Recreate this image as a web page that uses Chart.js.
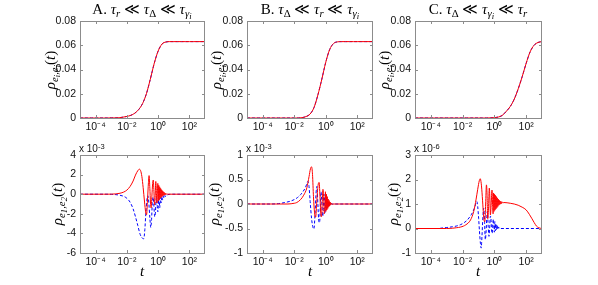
<!DOCTYPE html>
<html><head><meta charset="utf-8">
<script src="https://cdn.jsdelivr.net/npm/chart.js@4"></script>
<style>
body{margin:0;background:#fff;width:598px;height:285px;overflow:hidden;position:relative;}
canvas{position:absolute;left:0;top:0;}
.t{position:absolute;font-family:"Liberation Serif","DejaVu Serif",serif;white-space:nowrap;color:#000;line-height:1;}
.t sub{font-size:72%;vertical-align:-0.25em;line-height:0;}
.t sub sub{font-size:80%;}
.ttl{font-size:15px;transform:translateX(-50%);top:2px;}
.yl{font-size:15px;transform:translate(-50%,-50%) rotate(-90deg);}
.xl{font-size:15px;transform:translateX(-50%);top:264px;}
.ex{position:absolute;font-family:"Liberation Sans",Arial,sans-serif;font-size:10px;color:#111;top:144px;white-space:nowrap;line-height:1;}
.ex sup{font-size:75%;vertical-align:0.45em;line-height:0;}
</style></head><body>
<canvas id="cA1" width="598" height="285"></canvas>
<canvas id="cB1" width="598" height="285"></canvas>
<canvas id="cC1" width="598" height="285"></canvas>
<canvas id="cA2" width="598" height="285"></canvas>
<canvas id="cB2" width="598" height="285"></canvas>
<canvas id="cC2" width="598" height="285"></canvas>

<div class="t ttl" style="left:142px">A. <i>τ<sub>r</sub></i> ≪ <i>τ</i><sub>Δ</sub> ≪ <i>τ<sub>γ<sub>i</sub></sub></i></div>
<div class="t ttl" style="left:310px">B. <i>τ</i><sub>Δ</sub> ≪ <i>τ<sub>r</sub></i> ≪ <i>τ<sub>γ<sub>i</sub></sub></i></div>
<div class="t ttl" style="left:478px">C. <i>τ</i><sub>Δ</sub> ≪ <i>τ<sub>γ<sub>i</sub></sub></i> ≪ <i>τ<sub>r</sub></i></div>

<div class="t yl" style="left:50px;top:70px"><i>ρ<sub>e<sub>i</sub>,e<sub>i</sub></sub></i>(<i>t</i>)</div>
<div class="t yl" style="left:216px;top:70px"><i>ρ<sub>e<sub>i</sub>,e<sub>i</sub></sub></i>(<i>t</i>)</div>
<div class="t yl" style="left:384px;top:70px"><i>ρ<sub>e<sub>i</sub>,e<sub>i</sub></sub></i>(<i>t</i>)</div>
<div class="t yl" style="left:57px;top:204px"><i>ρ<sub>e<sub>1</sub>,e<sub>2</sub></sub></i>(<i>t</i>)</div>
<div class="t yl" style="left:214px;top:204px"><i>ρ<sub>e<sub>1</sub>,e<sub>2</sub></sub></i>(<i>t</i>)</div>
<div class="t yl" style="left:393px;top:204px"><i>ρ<sub>e<sub>1</sub>,e<sub>2</sub></sub></i>(<i>t</i>)</div>

<div class="t xl" style="left:142px"><i>t</i></div>
<div class="t xl" style="left:310px"><i>t</i></div>
<div class="t xl" style="left:478px"><i>t</i></div>

<div class="ex" style="left:79px">x 10<sup>-3</sup></div>
<div class="ex" style="left:246px">x 10<sup>-3</sup></div>
<div class="ex" style="left:414px">x 10<sup>-6</sup></div>

<script>
// ---------- x axis (time, log scale) ----------
const xTickExp = [-4, -2, 0, 2];
const xTickLabels = ['10\u207B\u2074', '10\u207B\u00B2', '10\u2070', '10\u00B2'];

// ---------- top row: rho_{ei,ei}(t), sampled at log10(t) ----------
const topExp = [-5,-4.75,-4.5,-4.25,-4,-3.75,-3.5,-3.25,-3,-2.75,-2.5,-2.25,-2,-1.75,-1.5,-1.25,-1,-0.75,-0.5,-0.25,0,0.25,0.5,0.75,1,1.25,1.5,1.75,2,2.25,2.5,2.75,3];
const topRedA = [0,0,0,0,0,0,0,0,0.0001,0.0001,0.0002,0.0007,0.0013,0.0022,0.0039,0.0069,0.0118,0.020,0.032,0.045,0.0552,0.0610,0.0627,0.063,0.063,0.063,0.063,0.063,0.063,0.063,0.063,0.063,0.063];
const topBlueA = [0,0,0,0,0,0,0,0,0.0001,0.0001,0.0002,0.0007,0.0013,0.0022,0.0039,0.0069,0.0118,0.020,0.032,0.045,0.0552,0.0610,0.0627,0.063,0.063,0.063,0.063,0.063,0.063,0.063,0.063,0.063,0.063];
const topRedB = [0,0,0,0,0,0,0,0,0,0,0,0,0,0,0.0003,0.0012,0.0032,0.0085,0.019,0.032,0.046,0.0565,0.0615,0.0628,0.063,0.063,0.063,0.063,0.063,0.063,0.063,0.063,0.063];
const topBlueB = [0,0,0,0,0,0,0,0,0,0,0,0,0,0,0.0003,0.0012,0.0032,0.0085,0.019,0.032,0.046,0.0565,0.0615,0.0628,0.063,0.063,0.063,0.063,0.063,0.063,0.063,0.063,0.063];
const topRedC = [0,0,0,0,0,0,0,0,0,0,0,0,0,0,0,0,0,0,0,0.0001,0.0003,0.0008,0.0022,0.0055,0.0095,0.0155,0.024,0.034,0.045,0.0545,0.060,0.0623,0.063];
const topBlueC = [0,0,0,0,0,0,0,0,0,0,0,0,0,0,0,0,0,0,0,0.0001,0.0003,0.0008,0.0022,0.0055,0.0095,0.0155,0.024,0.034,0.045,0.0545,0.060,0.0623,0.063];

// ---------- bottom row: rho_{e1,e2}(t) (values in units of the axis multiplier) ----------
const redAExp = [-5,-3.5,-3,-2.7,-2.44,-2.2,-2,-1.8,-1.6,-1.45,-1.3,-1.2,-1.12,-1.04,-0.96,-0.87,-0.8,-0.74,-0.68,-0.62,-0.58,-0.53,-0.49,-0.45,-0.4,-0.35,-0.31,-0.27,-0.23,-0.19,-0.15,-0.11,-0.08,-0.05,-0.02,0.01,0.04,0.07,0.1,0.13,0.16,0.19,0.22,0.25,0.28,0.31,0.34,0.37,0.4,0.43,0.46,0.49,0.52,0.56,0.6,0.7,3];
const redAVal = [0,0,0.005,0.03,0.1,0.22,0.42,0.78,1.35,1.95,2.4,2.55,2.4,1.8,0.7,-0.8,-1.8,-2.1,-0.6,1.2,1.9,0.6,-0.8,-1.4,-0.2,1.1,1.45,0.3,-1.1,-0.3,1.3,0.2,-0.9,0.1,1.1,-0.7,0.9,-0.55,0.75,-0.42,0.6,-0.32,0.46,-0.24,0.35,-0.17,0.25,-0.11,0.17,-0.07,0.1,-0.04,0.05,-0.01,0.01,0,0];
const blueAExp = [-5,-3.5,-3,-2.8,-2.5,-2.2,-2,-1.8,-1.6,-1.45,-1.3,-1.15,-1,-0.92,-0.85,-0.78,-0.72,-0.66,-0.6,-0.53,-0.47,-0.42,-0.37,-0.32,-0.27,-0.22,-0.18,-0.14,-0.1,-0.06,-0.02,0.01,0.04,0.07,0.1,0.13,0.16,0.19,0.22,0.25,0.28,0.31,0.34,0.37,0.4,0.43,0.46,0.5,0.55,0.6,0.7,0.8,3];
const blueAVal = [0,0,-0.01,-0.03,-0.09,-0.22,-0.42,-0.8,-1.5,-2.3,-3.2,-4.1,-4.5,-4.55,-3.6,-1.8,-0.6,-0.15,-0.8,-2.4,-3.4,-2.6,-0.8,-0.3,-1.2,-2.3,-2.1,-0.8,-0.35,-1.1,-1.8,-1.2,-0.4,-0.5,-1.4,-0.9,-0.3,-0.9,-0.5,-0.25,-0.6,-0.3,-0.2,-0.4,-0.2,-0.15,-0.25,-0.12,-0.1,-0.06,-0.02,0,0];

const redBExp = [-5,-2.4,-2.2,-2,-1.84,-1.6,-1.4,-1.2,-1.06,-0.97,-0.9,-0.84,-0.78,-0.71,-0.64,-0.57,-0.49,-0.42,-0.36,-0.31,-0.27,-0.22,-0.18,-0.13,-0.09,-0.05,-0.02,0.01,0.04,0.07,0.1,0.13,0.16,0.19,0.22,0.25,0.28,0.31,0.35,0.4,0.45,3];
const redBVal = [0,0,0.005,0.015,0.03,0.09,0.18,0.33,0.56,0.72,0.76,0.6,0.15,-0.18,-0.27,0.05,0.38,0.44,0.1,-0.22,-0.26,0.05,0.3,0.15,-0.2,-0.05,0.25,-0.15,0.2,-0.12,0.15,-0.09,0.1,-0.06,0.07,-0.04,0.04,-0.02,0.02,-0.01,0,0];
const blueBExp = [-5,-3.5,-3,-2.6,-2.27,-2,-1.8,-1.6,-1.45,-1.3,-1.2,-1.14,-1.07,-0.99,-0.9,-0.81,-0.75,-0.68,-0.61,-0.56,-0.5,-0.44,-0.39,-0.34,-0.3,-0.26,-0.2,-0.16,-0.12,-0.08,-0.05,-0.02,0.01,0.04,0.07,0.1,0.13,0.16,0.19,0.22,0.25,0.28,0.32,0.38,3];
const blueBVal = [0,0,0.008,0.03,0.055,0.09,0.13,0.19,0.25,0.33,0.41,0.46,0.38,0.05,-0.3,-0.48,-0.51,-0.2,0.25,0.36,0.0,-0.36,-0.38,0.0,0.25,0.1,-0.25,-0.15,0.2,0.1,-0.18,-0.05,0.15,-0.12,0.11,-0.08,0.07,-0.06,0.05,-0.03,0.03,-0.02,0.01,0,0];

const redCExp = [-5,-3,-2.65,-2.4,-2.12,-1.8,-1.5,-1.3,-1.15,-1.05,-0.95,-0.89,-0.83,-0.76,-0.7,-0.64,-0.6,-0.55,-0.5,-0.46,-0.42,-0.37,-0.32,-0.28,-0.25,-0.2,-0.15,-0.11,-0.08,-0.05,-0.02,0.01,0.04,0.07,0.1,0.13,0.16,0.19,0.22,0.25,0.28,0.31,0.34,0.37,0.4,0.43,0.46,0.5,0.55,0.6,0.8,1,1.25,1.5,1.75,2,2.2,2.35,2.5,2.65,2.8,2.9,3];
const redCVal = [0,0,0.01,0.03,0.06,0.15,0.35,0.7,1.2,1.6,1.95,2.03,1.85,1.3,0.7,0.3,0.28,1.0,1.78,1.4,0.4,0.8,1.65,1.2,0.55,1.0,1.57,0.9,0.6,1.45,0.7,1.4,0.75,1.35,0.8,1.3,0.85,1.25,0.9,1.2,0.95,1.15,0.98,1.12,1.0,1.1,1.02,1.08,1.05,1.06,1.05,1.03,1.0,0.95,0.87,0.76,0.58,0.42,0.25,0.1,0.03,0.01,0];
const blueCExp = [-5,-3.5,-3.3,-3,-2.65,-2.4,-2.12,-1.9,-1.7,-1.5,-1.38,-1.25,-1.15,-1.1,-1.05,-0.99,-0.94,-0.88,-0.83,-0.78,-0.72,-0.67,-0.62,-0.57,-0.52,-0.47,-0.44,-0.39,-0.34,-0.3,-0.25,-0.22,-0.18,-0.13,-0.1,-0.06,-0.03,0,0.03,0.06,0.09,0.12,0.15,0.18,0.21,0.24,0.27,0.3,0.35,0.4,3];
const blueCVal = [0,0,0.02,0.04,0.07,0.1,0.16,0.24,0.35,0.52,0.65,0.85,1.05,1.1,0.9,0.4,-0.1,-0.6,-0.8,-0.3,0.5,0.83,0.3,-0.45,-0.1,0.55,0.7,0.1,-0.32,0.0,0.5,0.45,-0.05,-0.2,0.2,0.38,0.0,-0.15,0.28,-0.1,0.2,-0.06,0.14,-0.03,0.1,0.0,0.06,0.01,0.02,0,0];

// ---------- drawing ----------
const W = 598, H = 285, YW = 40, XH = 20;
const tickFont = {family: '"Liberation Sans", Arial, sans-serif', size: 10.5};
const tickColor = '#111';
const boxColor = '#8c8c8c';

function pts(exps, vals) { return exps.map((e, i) => ({x: Math.pow(10, e), y: vals[i]})); }

const boxPlugin = {
  id: 'box',
  afterDraw(chart) {
    const {ctx, chartArea: a, scales} = chart;
    ctx.save();
    ctx.strokeStyle = boxColor; ctx.lineWidth = 1;
    ctx.strokeRect(Math.round(a.left) + 0.5, Math.round(a.top) + 0.5, Math.round(a.right - a.left) - 1, Math.round(a.bottom - a.top));
    const L = 3;
    ctx.beginPath();
    scales.x.ticks.forEach(t => {
      const px = Math.round(scales.x.getPixelForValue(t.value)) + 0.5;
      ctx.moveTo(px, a.bottom); ctx.lineTo(px, a.bottom - L);
      ctx.moveTo(px, a.top); ctx.lineTo(px, a.top + L);
    });
    scales.y.ticks.forEach(t => {
      const py = Math.round(scales.y.getPixelForValue(t.value)) + 0.5;
      ctx.moveTo(a.left, py); ctx.lineTo(a.left + L, py);
      ctx.moveTo(a.right, py); ctx.lineTo(a.right - L, py);
    });
    ctx.stroke();
    ctx.restore();
  }
};

function panel(id, area, y, redPts, bluePts) {
  new Chart(document.getElementById(id), {
    type: 'line',
    data: {datasets: [
      {data: redPts, borderColor: '#ff0000', borderWidth: 1, pointRadius: 0, cubicInterpolationMode: 'monotone', fill: false},
      {data: bluePts, borderColor: '#0000ff', borderWidth: 1, borderDash: [3, 2], pointRadius: 0, cubicInterpolationMode: 'monotone', fill: false}
    ]},
    options: {
      responsive: false, animation: false, events: [],
      layout: {padding: {left: area.l - YW, right: W - area.r, top: area.t, bottom: H - area.b - XH}},
      plugins: {legend: {display: false}, tooltip: {enabled: false}},
      scales: {
        x: {
          type: 'logarithmic', min: 1e-5, max: 1e3,
          afterFit: s => { s.height = XH; },
          afterBuildTicks: s => { s.ticks = xTickExp.map(e => ({value: Math.pow(10, e)})); },
          ticks: {autoSkip: false, maxRotation: 0, padding: 3, font: tickFont, color: tickColor,
            callback: v => { const i = xTickExp.indexOf(Math.round(Math.log10(v))); return i >= 0 ? xTickLabels[i] : ''; }},
          grid: {display: false, drawTicks: false}, border: {display: false}
        },
        y: {
          min: y.min, max: y.max,
          afterFit: s => { s.width = YW; },
          ticks: {stepSize: y.step, padding: 4, font: tickFont, color: tickColor, callback: y.fmt},
          grid: {display: false, drawTicks: false}, border: {display: false}
        }
      }
    },
    plugins: [boxPlugin]
  });
}

const topY = {min: 0, max: 0.08, step: 0.02, fmt: v => (Math.abs(v) < 1e-9 ? '0' : v.toFixed(2))};
const fmt1 = v => String(Math.round(v * 10) / 10);
const topRow = {t: 21, b: 118}, botRow = {t: 155, b: 253};
const cols = [{l: 80, r: 205}, {l: 247, r: 373}, {l: 415, r: 542}];

panel('cA1', {...cols[0], ...topRow}, topY, pts(topExp, topRedA), pts(topExp, topBlueA));
panel('cB1', {...cols[1], ...topRow}, topY, pts(topExp, topRedB), pts(topExp, topBlueB));
panel('cC1', {...cols[2], ...topRow}, topY, pts(topExp, topRedC), pts(topExp, topBlueC));
panel('cA2', {...cols[0], ...botRow}, {min: -6, max: 4, step: 2, fmt: fmt1}, pts(redAExp, redAVal), pts(blueAExp, blueAVal));
panel('cB2', {...cols[1], ...botRow}, {min: -1, max: 1, step: 0.5, fmt: fmt1}, pts(redBExp, redBVal), pts(blueBExp, blueBVal));
panel('cC2', {...cols[2], ...botRow}, {min: -1, max: 3, step: 1, fmt: fmt1}, pts(redCExp, redCVal), pts(blueCExp, blueCVal));
</script>
</body></html>
